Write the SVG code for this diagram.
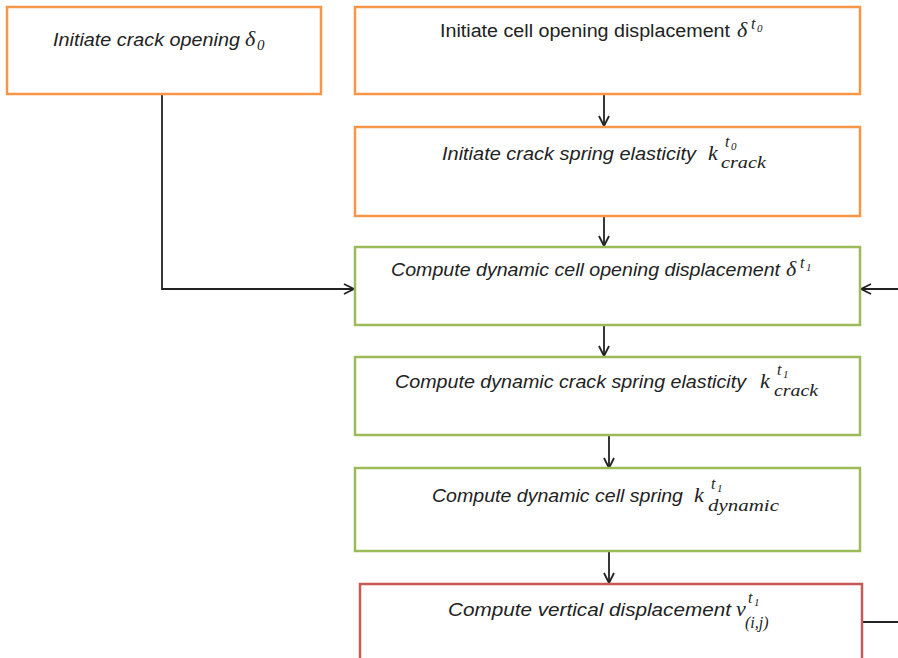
<svg xmlns="http://www.w3.org/2000/svg" width="898" height="658" viewBox="0 0 898 658">
<style>
.box{fill:#fff;stroke-width:2.5}
.or{stroke:#F79646}
.gr{stroke:#9BBB59}
.rd{stroke:#C55A57}
.t{font-family:"Liberation Sans",Arial,sans-serif;font-size:18px;fill:#222}
.i{font-style:italic}
.m{font-family:"Liberation Serif","Times New Roman",serif;font-style:italic;fill:#222}
.c{fill:none;stroke:#222;stroke-width:1.8}
</style>
<defs>
<marker id="ah" viewBox="0 0 12 12" refX="11" refY="6" markerWidth="12" markerHeight="12" markerUnits="userSpaceOnUse" orient="auto">
<path d="M1,1 L11,6 L1,11" fill="none" stroke="#222" stroke-width="1.8"/>
</marker>
</defs>
<rect width="898" height="658" fill="#fff"/>
<g id="connectors">
<line class="c" x1="604" y1="95" x2="604" y2="126" marker-end="url(#ah)"/>
<line class="c" x1="604" y1="216" x2="604" y2="246" marker-end="url(#ah)"/>
<line class="c" x1="604" y1="325" x2="604" y2="356" marker-end="url(#ah)"/>
<line class="c" x1="609" y1="435" x2="609" y2="468" marker-end="url(#ah)"/>
<line class="c" x1="609" y1="551" x2="609" y2="583" marker-end="url(#ah)"/>
<polyline class="c" points="162,94 162,289 354,289" marker-end="url(#ah)"/>
<line class="c" x1="898" y1="289" x2="861" y2="289" marker-end="url(#ah)"/>
<line class="c" x1="862" y1="622" x2="898" y2="622"/>
</g>
<g id="n1">
<rect class="box or" x="7" y="7" width="314" height="87"/>
<text class="t i" x="53" y="46" textLength="187" lengthAdjust="spacingAndGlyphs">Initiate crack opening</text>
<text class="m" x="245" y="46" font-size="22">δ</text>
<text class="m" x="257" y="50" font-size="15" font-style="normal">0</text>
</g>
<g id="n2">
<rect class="box or" x="355" y="7" width="505" height="87"/>
<text class="t" x="440" y="37" textLength="290" lengthAdjust="spacingAndGlyphs">Initiate cell opening displacement</text>
<text class="m" x="737" y="37" font-size="22">δ</text>
<text class="m" x="751" y="29" font-size="16">t</text>
<text class="m" x="757" y="32" font-size="11" font-style="normal">0</text>
</g>
<g id="n3">
<rect class="box or" x="355" y="127" width="505" height="89"/>
<text class="t i" x="442" y="160" textLength="254" lengthAdjust="spacingAndGlyphs">Initiate crack spring elasticity</text>
<text class="m" x="708" y="160" font-size="22">k</text>
<text class="m" x="725" y="147" font-size="16">t</text>
<text class="m" x="731" y="150" font-size="11" font-style="normal">0</text>
<text class="m" x="721" y="168" font-size="17" textLength="45" lengthAdjust="spacingAndGlyphs">crack</text>
</g>
<g id="n4">
<rect class="box gr" x="355" y="247" width="505" height="78"/>
<text class="t i" x="391" y="276" textLength="389" lengthAdjust="spacingAndGlyphs">Compute dynamic cell opening displacement</text>
<text class="m" x="786" y="276" font-size="22">δ</text>
<text class="m" x="800" y="268" font-size="16">t</text>
<text class="m" x="806" y="271" font-size="11" font-style="normal">1</text>
</g>
<g id="n5">
<rect class="box gr" x="355" y="357" width="505" height="78"/>
<text class="t i" x="395" y="388" textLength="351" lengthAdjust="spacingAndGlyphs">Compute dynamic crack spring elasticity</text>
<text class="m" x="760" y="388" font-size="22">k</text>
<text class="m" x="777" y="375" font-size="16">t</text>
<text class="m" x="783" y="378" font-size="11" font-style="normal">1</text>
<text class="m" x="774" y="396" font-size="17" textLength="44" lengthAdjust="spacingAndGlyphs">crack</text>
</g>
<g id="n6">
<rect class="box gr" x="355" y="468" width="505" height="83"/>
<text class="t i" x="432" y="502" textLength="251" lengthAdjust="spacingAndGlyphs">Compute dynamic cell spring</text>
<text class="m" x="694" y="502" font-size="22">k</text>
<text class="m" x="711" y="489" font-size="16">t</text>
<text class="m" x="717" y="492" font-size="11" font-style="normal">1</text>
<text class="m" x="708" y="511" font-size="17" textLength="71" lengthAdjust="spacingAndGlyphs">dynamic</text>
</g>
<g id="n7">
<rect class="box rd" x="360" y="584" width="502" height="80"/>
<text class="t i" x="448" y="616" textLength="283" lengthAdjust="spacingAndGlyphs">Compute vertical displacement</text>
<text class="m" x="736" y="616" font-size="22">v</text>
<text class="m" x="748" y="603" font-size="16">t</text>
<text class="m" x="754" y="606" font-size="11" font-style="normal">1</text>
<text class="m" x="745" y="628" font-size="16">(i,j)</text>
</g>
</svg>
